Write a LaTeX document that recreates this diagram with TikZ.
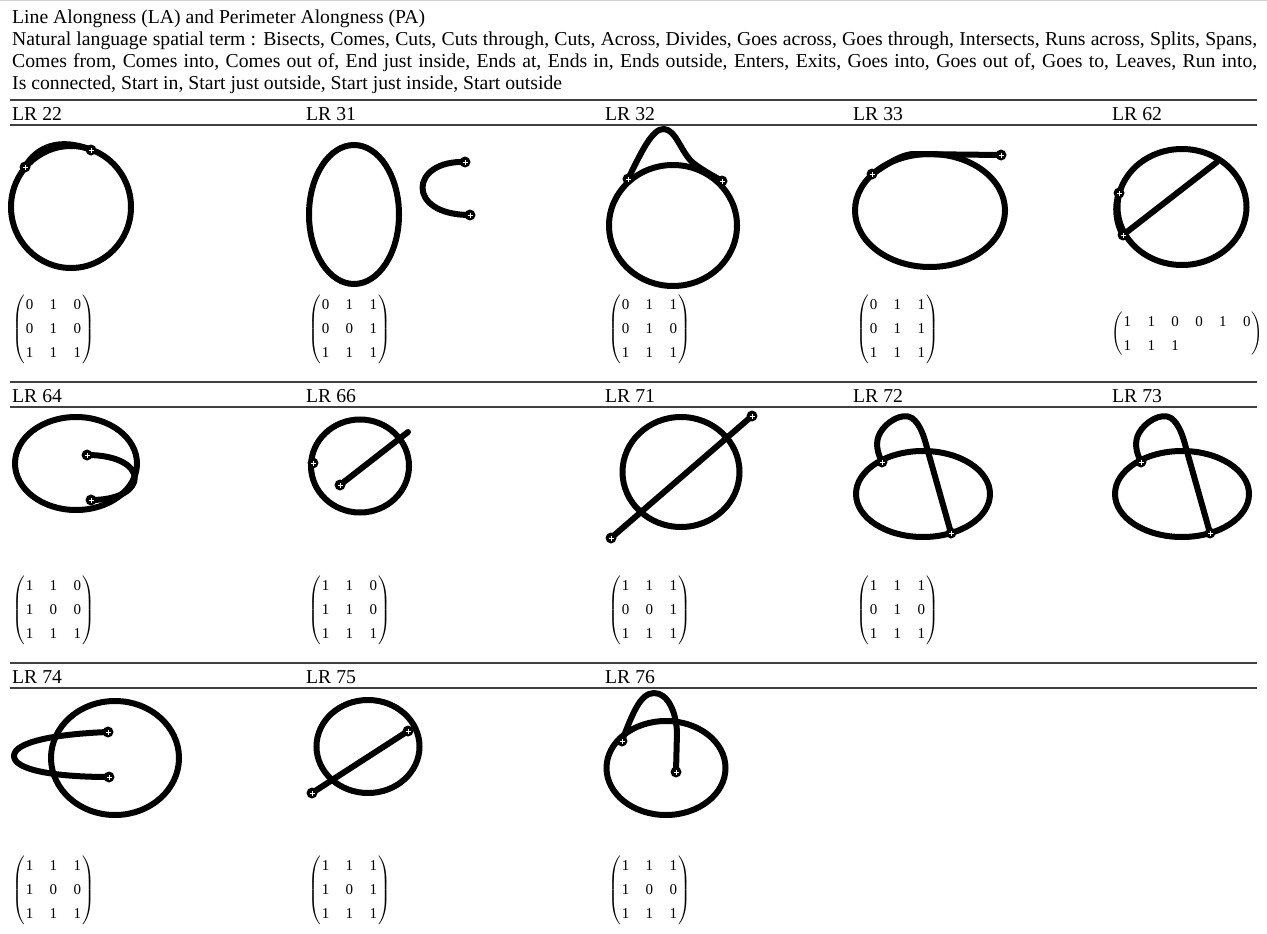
\documentclass[tikz,border=0pt]{standalone}
\usepackage{amsmath}
\usepackage{fontspec}
\setmainfont{Liberation Serif}
\usetikzlibrary{positioning}

\newcommand\lrmat[2]{{\setlength{\tabcolsep}{8.2pt}\renewcommand{\arraystretch}{1.4}%
  $\left(\begin{tabular}{@{\hspace{1pt}}#1@{\hspace{1pt}}}#2\end{tabular}\right)$}}

\begin{document}
\begin{tikzpicture}[x=1pt, y=-1pt,
  every node/.style={inner sep=0pt, font=\fontsize{19.7}{22}\selectfont},
  rule/.style={line width=1.4pt, black!75},
  lbl/.style={anchor=base west},
  rim/.style={line width=6pt},
  trail/.style={line width=6pt, line cap=round, line join=round},
  cross/.style={white, line width=0.4pt},
  mat/.style={anchor=west, font=\fontsize{15}{17}\selectfont},
]
\useasboundingbox (0,0) rectangle (1267,934);

%% Header
\draw[gray!35, line width=1pt] (0,0.5) -- (1267,0.5);
\node[lbl] (title) at (12,24) {Line Alongness (LA) and Perimeter Alongness (PA)};
\node[lbl] (terms1) at (12,46) {\makebox[1245pt][s]{Natural language spatial term : Bisects, Comes, Cuts, Cuts through, Cuts, Across, Divides, Goes across, Goes through, Intersects, Runs across, Splits, Spans,}};
\node[lbl] (terms2) at (12,68) {\makebox[1245pt][s]{Comes from, Comes into, Comes out of, End just inside, Ends at, Ends in, Ends outside, Enters, Exits, Goes into, Goes out of, Goes to, Leaves, Run into,}};
\node[lbl] (terms3) at (12,90) {Is connected, Start in, Start just outside, Start just inside, Start outside};

%% Rules and labels
\foreach \y in {100,125,382,407,663,688}
  \draw[rule] (10,\y) -- (1257,\y);
\node[lbl] (lab22) at (12,121)   {LR 22};
\node[lbl] (lab31) at (306,121)  {LR 31};
\node[lbl] (lab32) at (605,121)  {LR 32};
\node[lbl] (lab33) at (853,121)  {LR 33};
\node[lbl] (lab62) at (1112,121) {LR 62};
\node[lbl] (lab64) at (12,402)   {LR 64};
\node[lbl] (lab66) at (306,402)  {LR 66};
\node[lbl] (lab71) at (605,402)  {LR 71};
\node[lbl] (lab72) at (853,402)  {LR 72};
\node[lbl] (lab73) at (1112,402) {LR 73};
\node[lbl] (lab74) at (12,683)   {LR 74};
\node[lbl] (lab75) at (306,683)  {LR 75};
\node[lbl] (lab76) at (605,683)  {LR 76};

%% Regions and lines
% LR 22
\coordinate (a22) at (25,167);
\coordinate (b22) at (91,150);
\draw[rim] (71,207) circle [x radius=60, y radius=61];
\draw[trail] (a22) .. controls (36,147) and (60,137) .. (b22);

% LR 31
\coordinate (a31) at (465,162);
\coordinate (b31) at (470,215);
\draw[rim] (354,214.5) ellipse [x radius=45, y radius=69.5];
\draw[trail] (a31) .. controls (410,160) and (405,215) .. (b31);

% LR 32
\coordinate (a32) at (628,179);
\coordinate (b32) at (722,181);
\draw[rim] (673,225.5) ellipse [x radius=64, y radius=60.5];
\draw[trail] (a32) .. controls (640,155) and (652,128) .. (664,129)
  .. controls (676,130) and (680,150) .. (692,162)
  .. controls (702,170) and (712,175) .. (b32);

% LR 33
\coordinate (a33) at (872,174);
\coordinate (b33) at (1001,155);
\draw[rim] (930,210.5) ellipse [x radius=75, y radius=56.5];
\draw[trail] (a33) .. controls (888,164) and (898,156) .. (912,154) -- (b33);

% LR 62
\coordinate (a62) at (1119,193);
\coordinate (b62) at (1123,235);
\coordinate (e62) at (1217,162);
\draw[rim] (1182,207) ellipse [x radius=64.5, y radius=58];
\draw[trail] (a62) .. controls (1114,206) and (1116,224) .. (b62) -- (e62);

% LR 64
\coordinate (a64) at (87,455);
\coordinate (b64) at (91,500);
\draw[rim] (76,463.5) ellipse [x radius=61, y radius=46.5];
\draw[trail] (a64) .. controls (150,455) and (150,500) .. (b64);

% LR 66
\coordinate (a66) at (313,463);
\coordinate (b66) at (340,485);
\coordinate (e66) at (408,432);
\draw[rim] (360,466) ellipse [x radius=49, y radius=46.5];
\draw[trail] (b66) -- (e66);

% LR 71
\coordinate (a71) at (752,416);
\coordinate (b71) at (611,538);
\draw[rim] (681,472) ellipse [x radius=58.5, y radius=55];
\draw[trail] (a71) -- (b71);

% LR 72
\coordinate (a72) at (882,462);
\coordinate (b72) at (951,533);
\draw[rim] (923,494) ellipse [x radius=67, y radius=43];
\draw[trail] (a72) .. controls (877,452) and (875,442) .. (880,433)
  .. controls (886,422) and (902,412) .. (912,418)
  .. controls (920,424) and (924,436) .. (927,448) -- (b72);

% LR 73
\coordinate (a73) at (1141,462);
\coordinate (b73) at (1210,533);
\draw[rim] (1182,494) ellipse [x radius=67, y radius=43];
\draw[trail] (a73) .. controls (1136,452) and (1134,442) .. (1139,433)
  .. controls (1145,422) and (1161,412) .. (1171,418)
  .. controls (1179,424) and (1183,436) .. (1186,448) -- (b73);

% LR 74
\coordinate (a74) at (108,732);
\coordinate (b74) at (109,777);
\draw[rim] (115,758) ellipse [x radius=64, y radius=57];
\draw[trail] (a74) .. controls (55,734) and (14,742) .. (14,756)
  .. controls (14,770) and (55,777) .. (b74);

% LR 75
\coordinate (a75) at (312,793);
\coordinate (b75) at (408,731);
\draw[rim] (368,746.5) ellipse [x radius=51.5, y radius=46.5];
\draw[trail] (a75) -- (b75);

% LR 76
\coordinate (a76) at (622,741);
\coordinate (b76) at (676,772);
\draw[rim] (666,768) ellipse [x radius=59.5, y radius=47];
\draw[trail] (a76) .. controls (632,715) and (640,693) .. (654,693)
  .. controls (668,693) and (676,712) .. (677,732) -- (b76);

% end points
\foreach \p in {a22,b22,a31,b31,a32,b32,a33,b33,a62,b62,a64,b64,a66,b66,
                a71,b71,a72,b72,a73,b73,a74,b74,a75,b75,a76,b76} {
  \fill (\p) circle (5.5);
  \draw[cross] ([xshift=-2.5pt]\p) -- ([xshift=2.5pt]\p)
               ([yshift=-2.5pt]\p) -- ([yshift=2.5pt]\p);
}

%% Matrices
\node[mat] (m22) at (12,329)    {\lrmat{ccc}{0&1&0\\0&1&0\\1&1&1}};
\node[mat] (m31) at (308,329)   {\lrmat{ccc}{0&1&1\\0&0&1\\1&1&1}};
\node[mat] (m32) at (608,329)   {\lrmat{ccc}{0&1&1\\0&1&0\\1&1&1}};
\node[mat] (m33) at (856,329)   {\lrmat{ccc}{0&1&1\\0&1&1\\1&1&1}};
\node[mat] (m62) at (1111,334)  {\lrmat{cccccc}{1&1&0&0&1&0\\1&1&1}};
\node[mat] (m64) at (12,610)    {\lrmat{ccc}{1&1&0\\1&0&0\\1&1&1}};
\node[mat] (m66) at (308,610)   {\lrmat{ccc}{1&1&0\\1&1&0\\1&1&1}};
\node[mat] (m71) at (608,610)   {\lrmat{ccc}{1&1&1\\0&0&1\\1&1&1}};
\node[mat] (m72) at (856,610)   {\lrmat{ccc}{1&1&1\\0&1&0\\1&1&1}};
\node[mat] (m74) at (12,890)    {\lrmat{ccc}{1&1&1\\1&0&0\\1&1&1}};
\node[mat] (m75) at (308,890)   {\lrmat{ccc}{1&1&1\\1&0&1\\1&1&1}};
\node[mat] (m76) at (608,890)   {\lrmat{ccc}{1&1&1\\1&0&0\\1&1&1}};

\end{tikzpicture}
\end{document}
